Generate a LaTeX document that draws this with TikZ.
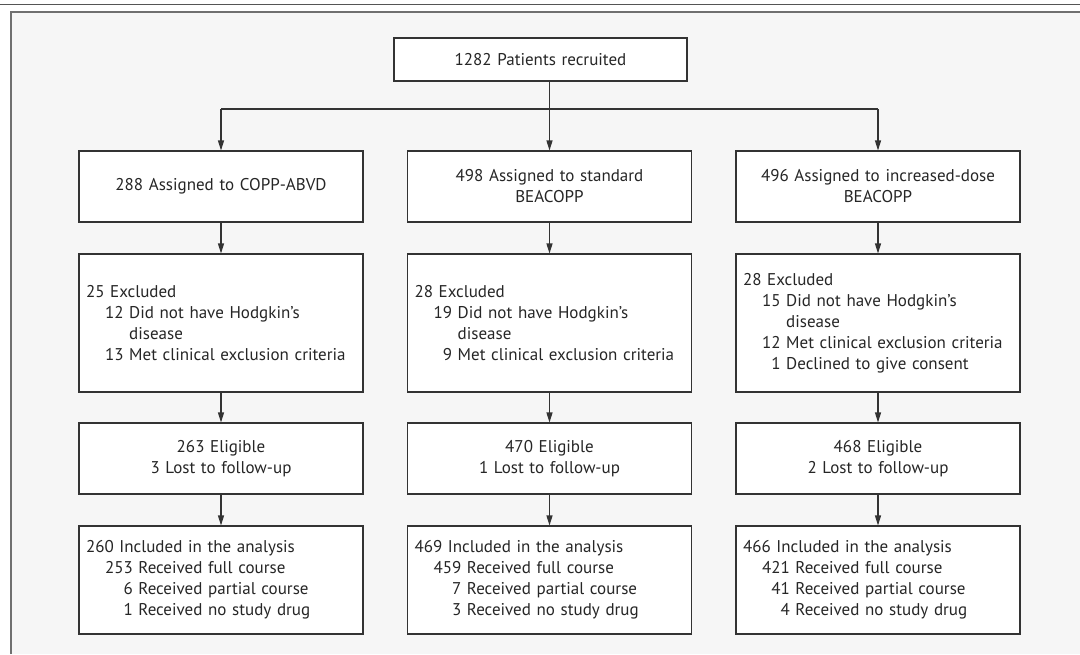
\documentclass[tikz,border=0pt]{standalone}
\usepackage{fontspec}
\usepackage{calc}
\setmainfont{PT Sans}
\usetikzlibrary{arrows.meta}
\definecolor{panelbg}{HTML}{F6F6F6}
\definecolor{linecol}{HTML}{333333}
\definecolor{rulecol}{HTML}{555555}
\definecolor{bordercol}{HTML}{707070}
\hyphenpenalty=10000
\exhyphenpenalty=10000
\newcommand\ent[3]{\hspace*{19pt}\makebox[\widthof{#1}][r]{#2}\ #3}
\newcommand\cont[2]{\hspace*{19pt}\phantom{#1}\ #2}
\begin{document}
\begin{tikzpicture}[x=1pt,y=-1pt,
  box/.style={draw=linecol, line width=1.1pt, fill=white, inner xsep=7pt, inner ysep=0pt,
    text width=270pt, minimum width=284pt, font=\fontsize{17}{21}\selectfont, text=black!85},
  cbox/.style={box, align=center},
  lbox/.style={box, align=left},
  r1/.style={minimum height=71pt},
  r2/.style={minimum height=138pt},
  r3/.style={minimum height=71pt},
  r4/.style={minimum height=108pt},
  conn/.style={draw=linecol, line width=1.1pt},
  arr/.style={conn, -{Triangle[length=10pt,width=6pt]}}
]
\useasboundingbox (0,0) rectangle (1080,654);
\fill[panelbg] (12,12) rectangle (1080,654);
\draw[bordercol, line width=2pt] (11,654) -- (11,12) -- (1080,12);
\draw[rulecol, line width=1.4pt] (0,4.5) -- (1080,4.5);

\node[cbox, minimum width=293pt, text width=279pt, minimum height=43pt] (top) at (540.5,59.5) {1282 Patients recruited};

\node[cbox, r1] (a1) at (221,186.5) {288 Assigned to COPP-ABVD};
\node[cbox, r1] (b1) at (549.5,186.5) {498 Assigned to standard\\BEACOPP};
\node[cbox, r1] (c1) at (878,186.5) {496 Assigned to increased-dose\\BEACOPP};

\node[lbox, r2] (a2) at (221,323) {25 Excluded\\
\ent{00}{12}{Did not have Hodgkin’s}\\
\cont{00}{disease}\\
\ent{00}{13}{Met clinical exclusion criteria}};
\node[lbox, r2] (b2) at (549.5,323) {28 Excluded\\
\ent{00}{19}{Did not have Hodgkin’s}\\
\cont{00}{disease}\\
\ent{00}{9}{Met clinical exclusion criteria}};
\node[lbox, r2] (c2) at (878,323) {28 Excluded\\
\ent{00}{15}{Did not have Hodgkin’s}\\
\cont{00}{disease}\\
\ent{00}{12}{Met clinical exclusion criteria}\\
\ent{00}{1}{Declined to give consent}};

\node[cbox, r3] (a3) at (221,458.5) {263 Eligible\\3 Lost to follow-up};
\node[cbox, r3] (b3) at (549.5,458.5) {470 Eligible\\1 Lost to follow-up};
\node[cbox, r3] (c3) at (878,458.5) {468 Eligible\\2 Lost to follow-up};

\node[lbox, r4] (a4) at (221,580) {260 Included in the analysis\\
\ent{000}{253}{Received full course}\\
\ent{000}{6}{Received partial course}\\
\ent{000}{1}{Received no study drug}};
\node[lbox, r4] (b4) at (549.5,580) {469 Included in the analysis\\
\ent{000}{459}{Received full course}\\
\ent{000}{7}{Received partial course}\\
\ent{000}{3}{Received no study drug}};
\node[lbox, r4] (c4) at (878,580) {466 Included in the analysis\\
\ent{000}{421}{Received full course}\\
\ent{000}{41}{Received partial course}\\
\ent{000}{4}{Received no study drug}};

\coordinate (hl) at (0,109);
\draw[conn] (top.south -| b1.north) -- (hl -| b1.north);
\draw[conn] (hl -| a1.north) -- (hl -| c1.north);
\draw[arr] (hl -| a1.north) -- (a1.north);
\draw[arr] (hl -| b1.north) -- (b1.north);
\draw[arr] (hl -| c1.north) -- (c1.north);
\foreach \c in {a,b,c}{
  \draw[arr] (\c1.south) -- (\c2.north);
  \draw[arr] (\c2.south) -- (\c3.north);
  \draw[arr] (\c3.south) -- (\c4.north);
}
\end{tikzpicture}
\end{document}
